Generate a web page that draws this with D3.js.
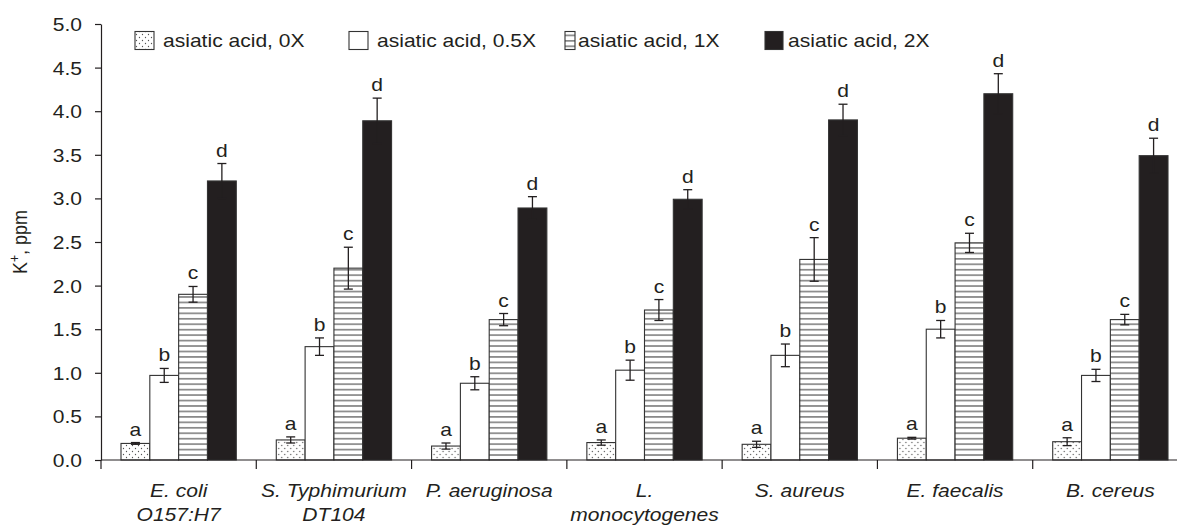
<!DOCTYPE html>
<html>
<head>
<meta charset="utf-8">
<script src="https://cdn.jsdelivr.net/npm/d3@7"></script>
<style>
  body { margin: 0; background: #fff; }
  svg text { font-family: "Liberation Sans", Arial, sans-serif; fill: #231f20; }
</style>
</head>
<body>
<div id="chart"></div>
<script>
// bacteria groups, label split in lines like the figure
var groups = ["E. coli O157:H7", "S. Typhimurium DT104", "P. aeruginosa", "L. monocytogenes", "S. aureus", "E. faecalis", "B. cereus"];
var groupLines = [["E. coli", "O157:H7"], ["S. Typhimurium", "DT104"], ["P. aeruginosa"], ["L.", "monocytogenes"], ["S. aureus"], ["E. faecalis"], ["B. cereus"]];
var series = ["asiatic acid, 0X", "asiatic acid, 0.5X", "asiatic acid, 1X", "asiatic acid, 2X"];
var letters = ["a", "b", "c", "d"];

// K+ ppm
var v0  = [0.19, 0.23, 0.16, 0.20, 0.18, 0.25, 0.21];
var v05 = [0.97, 1.30, 0.88, 1.03, 1.20, 1.50, 0.97];
var v1  = [1.90, 2.20, 1.61, 1.72, 2.30, 2.49, 1.61];
var v2  = [3.20, 3.89, 2.89, 2.99, 3.90, 4.20, 3.49];
// error bars (+/-)
var e0  = [0.01, 0.035, 0.035, 0.03, 0.035, 0.01, 0.045];
var e05 = [0.08, 0.10, 0.075, 0.115, 0.13, 0.10, 0.07];
var e1  = [0.09, 0.24, 0.07, 0.12, 0.25, 0.11, 0.06];
var e2  = [0.20, 0.26, 0.13, 0.11, 0.18, 0.23, 0.20];

var yTicks = [0, 0.5, 1, 1.5, 2, 2.5, 3, 3.5, 4, 4.5, 5];

var values = [v0, v05, v1, v2];
var errors = [e0, e05, e1, e2];

var width = 1177, height = 526;
var ink = "#231f20";
var SX = 1.17; // the figure's text is stretched sideways

var svg = d3.select("#chart").append("svg")
    .attr("width", width)
    .attr("height", height);

var defs = svg.append("defs");
var dots = defs.append("pattern").attr("id", "dots")
    .attr("patternUnits", "userSpaceOnUse")
    .attr("width", 6).attr("height", 6);
dots.append("rect").attr("width", 6).attr("height", 6).attr("fill", "#fff");
dots.append("circle").attr("cx", 1.5).attr("cy", 1.5).attr("r", 0.65).attr("fill", "#555");
dots.append("circle").attr("cx", 4.5).attr("cy", 4.5).attr("r", 0.65).attr("fill", "#555");

var stripes = defs.append("pattern").attr("id", "stripes")
    .attr("patternUnits", "userSpaceOnUse")
    .attr("width", 10).attr("height", 5.45);
stripes.append("rect").attr("width", 10).attr("height", 5.45).attr("fill", "#fff");
stripes.append("line").attr("x1", 0).attr("x2", 10).attr("y1", 2.7).attr("y2", 2.7)
    .attr("stroke", "#333").attr("stroke-width", 1);

var fills = ["url(#dots)", "#fff", "url(#stripes)", ink];

var y = d3.scaleLinear().domain([0, 5]).range([460, 24]);
var x0 = d3.scaleBand().domain(groups).range([101, 1188]).padding(0);
var x1 = d3.scaleBand().domain(series).range([20, x0.bandwidth() - 20]).padding(0);

// stretched text helper
function txt(parent, x, yy, s, anchor, italic) {
    return parent.append("text")
        .attr("transform", "translate(" + x + "," + yy + ") scale(" + SX + ",1)")
        .attr("text-anchor", anchor || "start")
        .style("font-size", "18px")
        .style("font-style", italic ? "italic" : "normal")
        .text(s);
}

// y axis
var yAxis = svg.append("g")
    .attr("transform", "translate(101,0)")
    .call(d3.axisLeft(y).tickValues(yTicks).tickFormat(d3.format(".1f")).tickSize(6).tickSizeOuter(0));
yAxis.select(".domain").attr("stroke", ink).attr("stroke-width", 1.2);
yAxis.selectAll(".tick line").attr("stroke", ink).attr("stroke-width", 1.2);
yAxis.selectAll(".tick text").remove();
yAxis.selectAll(".tick").each(function (d) {
    txt(d3.select(this), -19, 6.5, d3.format(".1f")(d), "end");
});

// y label
var yl = svg.append("text")
    .attr("transform", "translate(27,242) rotate(-90) scale(1," + SX + ")")
    .attr("text-anchor", "middle")
    .style("font-size", "18px");
yl.append("tspan").text("K");
yl.append("tspan").attr("dy", -7).style("font-size", "12px").text("+");
yl.append("tspan").attr("dy", 7).text(", ppm");

// bars
var gGroups = svg.selectAll(".grp")
    .data(groups)
    .enter().append("g")
    .attr("class", "grp")
    .attr("transform", function (d) { return "translate(" + x0(d) + ",0)"; });

gGroups.each(function (gname, gi) {
    var g = d3.select(this);
    series.forEach(function (s, si) {
        var v = values[si][gi], e = errors[si][gi];
        var bx = x1(s), bw = x1.bandwidth(), cx = bx + bw / 2;
        g.append("rect")
            .attr("x", bx).attr("y", y(v))
            .attr("width", bw).attr("height", y(0) - y(v))
            .attr("fill", fills[si])
            .attr("stroke", "#333").attr("stroke-width", 1.1);
        // error bar
        var eb = g.append("g").attr("stroke", ink).attr("stroke-width", 1.3);
        eb.append("line").attr("x1", cx).attr("x2", cx).attr("y1", y(v - e)).attr("y2", y(v + e));
        eb.append("line").attr("x1", cx - 4.5).attr("x2", cx + 4.5).attr("y1", y(v + e)).attr("y2", y(v + e));
        eb.append("line").attr("x1", cx - 4.5).attr("x2", cx + 4.5).attr("y1", y(v - e)).attr("y2", y(v - e));
        txt(g, cx, y(v + e) - 7, letters[si], "middle");
    });
});

// x axis line + separators
svg.append("line")
    .attr("x1", 101).attr("x2", width).attr("y1", y(0)).attr("y2", y(0))
    .attr("stroke", ink).attr("stroke-width", 1.2);
svg.selectAll(".sep")
    .data(groups)
    .enter().append("line")
    .attr("class", "sep")
    .attr("x1", function (d) { return x0(d); })
    .attr("x2", function (d) { return x0(d); })
    .attr("y1", y(0)).attr("y2", y(0) + 9)
    .attr("stroke", ink).attr("stroke-width", 1.2);

// x labels
groups.forEach(function (gname, gi) {
    var cx = x0(gname) + x0.bandwidth() / 2;
    groupLines[gi].forEach(function (line, li) {
        txt(svg, cx, 497 + li * 24, line, "middle", true);
    });
});

// legend
var legendBox = [[135, 19], [349, 19], [565, 10], [765, 18]];
var legendText = [163, 377, 578, 788];
series.forEach(function (s, si) {
    svg.append("rect")
        .attr("x", legendBox[si][0]).attr("y", 31.5)
        .attr("width", legendBox[si][1]).attr("height", 18)
        .attr("fill", fills[si])
        .attr("stroke", "#333").attr("stroke-width", 1.1);
    txt(svg, legendText[si], 47, s, "start");
});
</script>
</body>
</html>
